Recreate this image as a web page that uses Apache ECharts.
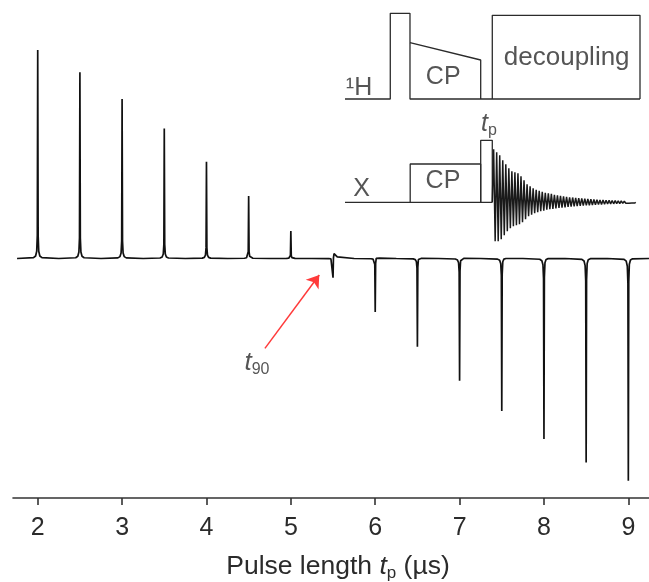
<!DOCTYPE html>
<html><head><meta charset="utf-8">
<script src="https://cdn.jsdelivr.net/npm/echarts@6/dist/echarts.min.js"></script>
<style>html,body{margin:0;padding:0;background:#fff}#c{width:649px;height:582px}</style>
</head><body><div id="c"></div>
<script>
// ---- main spectra array (pulse length calibration) ----
const pulseLengths = [2.0,2.5,3.0,3.5,4.0,4.5,5.0,5.5,6.0,6.5,7.0,7.5,8.0,8.5,9.0];
const peakAmp      = [100,89.3,76.5,62.4,46.4,30.0,13.2,-9.2,-25.7,-42.3,-58.6,-73.1,-86.6,-97.9,-106.6];
const sideLobe     = [0,0,0,0,0,0,0,2.7,1.0,1.0,1.0,1.0,1.0,1.0,1.0];
// line shape template (offsets in µs, relative heights) read from the peaks
const lineOffsets = [-0.05,-0.025,-0.012,-0.005,0,0.005,0.012,0.025,0.05];
const lineShape   = [0.004,0.012,0.035,0.11,1,0.11,0.035,0.012,0.004];
const lobeShape   = [0,0,0,0,0,0.5,1,0.6,0.3];
const specRange = [1.755, 9.25];
const xTicks = [2,3,4,5,6,7,8,9];

// ---- inset pulse sequence (time units, rf amplitude units) ----
const hBaseline = [[0,0],[15.35,0],[15.35,85.7],[22.03,85.7],[22.03,0],[100,0]];
const hRamp     = [[22.03,56.3],[46,39],[46,0]];
const hDecouple = [[49.93,0],[49.93,83.7],[100,83.7],[100,0]];
const xBaseline = [[0,0],[49.93,0]];
const xCP       = [[22.1,0],[22.1,38.3],[46,38.3],[46,0]];
const xPulse    = [[46,0],[46,62],[49.93,62],[49.93,0]];
const fidUp   = [53,50,47,42,38,34,31,30,29,26,22,18,16,14,12.5,11.5,10.5,9.5,9,8.5,7.5,7,6.5,6,5.5,5,4.8,4.5,4.2,3.9,3.6,3.3,3,2.8,2.6,2.4,2.2,2,1.9,1.8,1.6,1.5,1.3,1.1,1,0.9,0.7];
const fidDown = [39,39,37,33,29,26,24,23,22,20,17,14,12.5,11,10,9,8.5,7.5,7,6.5,6,5.7,5.3,5,4.6,4.3,4,3.8,3.5,3.3,3.1,3,2.8,2.5,2.3,2.1,1.9,1.7,1.6,1.5,1.4,1.3,1.1,1,0.9,0.8,0.7];
const fidStart = 49.93, fidPeriod = 1.03;
const hLevel = 151, xLevel = 47.7;
const insetLabels = ['¹H','CP','decoupling','X','CP','{i|t}{s|p}'];
const insetLabelPos = [[4.75,162],[33.3,172.5],[75.15,192],[5.66,61],[33.2,69],[48.8,126]];
const insetLabelSize = [25,25,26,25,25,25];

// ---- build data ----
const spec = [[specRange[0],0]];
pulseLengths.forEach((p,i)=>{
  lineOffsets.forEach((o,k)=>spec.push([p+o, peakAmp[i]*lineShape[k] + sideLobe[i]*lobeShape[k]]));
  if (i < pulseLengths.length-1) spec.push([(p+pulseLengths[i+1])/2, 0]);
});
spec.push([specRange[1],0]);

const shift = (arr, lvl) => arr.map(d=>[d[0], d[1]+lvl]);
const fid = [[fidStart, xLevel]];
fidUp.forEach((u,i)=>{
  const t0 = fidStart + 0.2 + i*fidPeriod;
  fid.push([t0 + fidPeriod*0.25, xLevel + u]);
  fid.push([t0 + fidPeriod*0.75, xLevel - fidDown[i]]);
});
fid.push([fidStart + 0.2 + fidUp.length*fidPeriod, xLevel]);

const FONT = '"Liberation Sans", Arial, sans-serif';
const TXT = '#2b2b2b';
const seqLine = (data) => ({
  type:'line', xAxisIndex:1, yAxisIndex:1, data, symbol:'none', silent:true,
  lineStyle:{color:'#2b2b2b', width:1.3}, animation:false, z:3
});

const chart = echarts.init(document.getElementById('c'), null, {renderer:'canvas'});
chart.setOption({
  backgroundColor:'#fff',
  animation:false,
  grid:[
    {left:13, right:0, top:0, bottom:84, containLabel:false, outerBoundsMode:'none'},
    {left:345, top:0, width:295, height:250, containLabel:false, outerBoundsMode:'none'}
  ],
  xAxis:[
    {type:'value', min:1.707, max:9.245, gridIndex:0,
     axisLine:{show:true, onZero:false, lineStyle:{color:'#333', width:1.6}},
     axisTick:{show:true, inside:false, length:7, lineStyle:{color:'#333', width:1.6}, customValues:xTicks},
     axisLabel:{show:true, margin:18, fontSize:25, color:TXT, fontFamily:FONT, customValues:xTicks},
     splitLine:{show:false},
     name:'Pulse length {i|t}{s|p} (µs)', nameLocation:'middle', nameGap:54,
     nameTextStyle:{fontSize:26.5, color:TXT, fontFamily:FONT, lineHeight:30, padding:[0,0,0,14],
       rich:{i:{fontStyle:'italic', fontSize:26.5, color:TXT, fontFamily:FONT, lineHeight:30},
             s:{fontSize:17, color:TXT, fontFamily:FONT, lineHeight:17, verticalAlign:'bottom'}}}
    },
    {type:'value', min:0, max:100, gridIndex:1, show:false}
  ],
  yAxis:[
    {type:'value', min:-114.87, max:124.0, gridIndex:0, show:false},
    {type:'value', min:0, max:250, gridIndex:1, show:false}
  ],
  series:[
    {type:'line', data:spec, symbol:'none', silent:true, xAxisIndex:0, yAxisIndex:0,
     lineStyle:{color:'#111', width:1.7}, z:2},
    {type:'scatter', xAxisIndex:0, yAxisIndex:0, silent:true, symbolSize:1,
     itemStyle:{color:'rgba(0,0,0,0)'},
     data:[{value:[4.598,-50.1]}],
     label:{show:true, position:'inside', formatter:'{i|t}{s|90}', color:TXT, lineHeight:30,
       rich:{i:{fontStyle:'italic', fontSize:26, color:TXT, fontFamily:FONT, lineHeight:30},
             s:{fontSize:16, color:TXT, fontFamily:FONT, lineHeight:16, verticalAlign:'bottom'}}},
     markLine:{silent:true, symbol:['none','arrow'], symbolSize:12, animation:false,
       label:{show:false}, lineStyle:{color:'#ff3a3a', width:1.5, type:'solid'},
       emphasis:{disabled:true},
       data:[[{coord:[4.693,-43.1]},{coord:[5.337,-7.9]}]]}
    },
    seqLine(shift(hBaseline,hLevel)),
    seqLine(shift(hRamp,hLevel)),
    seqLine(shift(hDecouple,hLevel)),
    seqLine(shift(xBaseline,xLevel)),
    seqLine(shift(xCP,xLevel)),
    seqLine(shift(xPulse,xLevel)),
    {type:'line', xAxisIndex:1, yAxisIndex:1, data:fid, symbol:'none', silent:true,
     lineStyle:{color:'#1a1a1a', width:1.5}, z:3},
    {type:'scatter', xAxisIndex:1, yAxisIndex:1, silent:true, symbolSize:1,
     itemStyle:{color:'rgba(0,0,0,0)'},
     data: insetLabels.map((t,i)=>({value:insetLabelPos[i],
       label:{show:true, position:'inside', formatter:t, fontSize:insetLabelSize[i], color:TXT, fontFamily:FONT,
         lineHeight:30,
         rich:{i:{fontStyle:'italic', fontSize:25, color:TXT, fontFamily:FONT, lineHeight:30},
               s:{fontSize:16, color:TXT, fontFamily:FONT, lineHeight:16, verticalAlign:'bottom'}}}}))
    }
  ]
});
</script></body></html>
